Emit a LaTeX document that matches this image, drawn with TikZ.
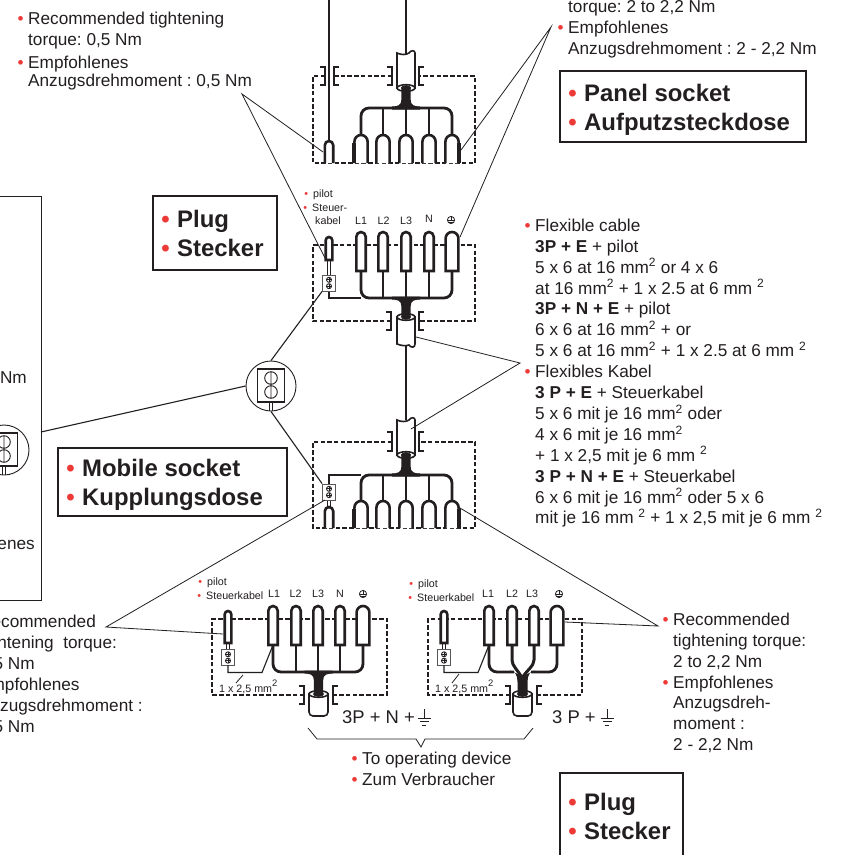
\documentclass[tikz,border=0pt]{standalone}
\usepackage{fontspec}
\setmainfont{Liberation Sans}
\definecolor{ink}{HTML}{231F20}
\definecolor{dotred}{HTML}{EE3A36}
\tikzset{
   body/.style={anchor=north west,align=left,inner sep=0pt,text=ink,font=\fontsize{17.2}{20.9}\selectfont},
   tag/.style={anchor=north west,align=left,inner sep=0pt,text=ink,font=\bfseries\fontsize{23.9}{29}\selectfont},
   small/.style={anchor=base west,inner sep=0pt,text=ink,font=\fontsize{10.7}{13}\selectfont},
   phase/.style={small,anchor=base},
   ratio/.style={anchor=base west,inner sep=0pt,text=ink,font=\fontsize{18.4}{22}\selectfont},
   frame/.style={draw=ink,line width=1.2pt},
   thinframe/.style={draw=ink,line width=0.9pt},
   leader/.style={draw=ink,line width=0.8pt},
   boxdash/.style={draw=ink,line width=1.2pt,dash pattern=on 4.5pt off 2.2pt},
   gland/.style={draw=ink,line width=1.3pt},
   pinline/.style={draw=ink,line width=2.6pt},
   wire/.style={draw=ink,line width=2.8pt,rounded corners=8pt},
   thinwire/.style={draw=ink,line width=1.1pt},
   sleeve/.style={draw=ink,line width=1.6pt,fill=white},
   termbox/.style={draw=ink!75,line width=0.9pt,fill=white,minimum width=13pt,minimum height=16pt,inner sep=0pt},
   lensring/.style={circle,draw=ink,line width=0.9pt,fill=white,minimum size=50pt,inner sep=0pt},
}
\newcommand{\bul}{\strut\llap{\textcolor{dotred}{\textbullet}\hspace{4.5pt}}}
\newcommand{\tagbul}{\strut\llap{\textcolor{dotred}{\textbullet}\hspace{7.5pt}}}
\newcommand{\smallbul}{\llap{\textcolor{dotred}{\textbullet}\hspace{5pt}}}
% closed pin: x, top, bottom, half width
\newcommand{\plugpin}[4]{%
   \draw[pinline,fill=white] ({#1-#4},#3) [rounded corners=#4pt] -- ({#1-#4},#2) -- ({#1+#4},#2) [sharp corners] -- ({#1+#4},#3) -- cycle;}
% open pin of a socket
\newcommand{\socketpin}[4]{%
   \draw[pinline,fill=white] ({#1-#4},#3) [rounded corners=#4pt] -- ({#1-#4},#2) -- ({#1+#4},#2) [sharp corners] -- ({#1+#4},#3);}
% left and right half of the cable gland
\newcommand{\glandpair}[4]{%
   \draw[gland] ({#1-5},#3) -- (#1,#3) -- (#1,#4) -- ({#1-5},#4);
   \draw[gland] ({#2+5},#3) -- (#2,#3) -- (#2,#4) -- ({#2+5},#4);}
\newcommand{\sleevedown}[3]{%
   \draw[sleeve] ({#1-9},#2) -- ({#1-9},#3) -- ({#1+9},#3) -- ({#1+9},#2) .. controls ({#1+9},{#2-3}) and ({#1+5},{#2-3}) .. ({#1+3},#2) .. controls ({#1},{#2+2}) and ({#1-5},{#2+2}) .. cycle;
   \draw[sleeve] (#1,#3) ellipse [x radius=9,y radius=3.3];}
\newcommand{\sleeveup}[3]{%
   \draw[sleeve] ({#1-9},#2) -- ({#1-9},#3) .. controls ({#1-4},{#3+2}) and ({#1},{#3+2}) .. ({#1+3},{#3+1}) .. controls ({#1+5},{#3+4}) and ({#1+9},{#3+4}) .. ({#1+9},#3) -- ({#1+9},#2) -- cycle;
   \draw[sleeve] (#1,#2) ellipse [x radius=9,y radius=3.3];}
\newcommand{\sleevecup}[3]{%
   \draw[sleeve] ({#1-9.5},#2) [rounded corners=4pt] -- ({#1-9.5},#3) -- ({#1+9.5},#3) [sharp corners] -- ({#1+9.5},#2) -- cycle;
   \draw[sleeve] (#1,#2) ellipse [x radius=9.5,y radius=3.3];}
% x, cable end, bus, direction
\newcommand{\junction}[4]{%
   \fill[ink] ({#1-4.7},#2) -- ({#1-4.7},{#3-#4*8}) .. controls ({#1-4.7},{#3-#4*3}) and ({#1-8},{#3-#4*1.5}) .. ({#1-14},{#3-#4*1.5}) -- ({#1-14},{#3+#4*1.5}) -- ({#1+14},{#3+#4*1.5}) -- ({#1+14},{#3-#4*1.5}) .. controls ({#1+8},{#3-#4*1.5}) and ({#1+4.7},{#3-#4*3}) .. ({#1+4.7},{#3-#4*8}) -- ({#1+4.7},#2) -- cycle;}
\newcommand{\termblock}[3]{%
   \node[termbox] (#1) at (#2,#3) {};
   \foreach \d in {-3.2,3.2} {
      \draw[ink,line width=0.9pt] (#2,{#3+\d}) circle [radius=2.5];
      \draw[ink,line width=0.8pt] ({#2-2.5},{#3+\d}) -- ({#2+2.5},{#3+\d}) (#2,{#3+\d-2.5}) -- (#2,{#3+\d+2.5});
   }}
\newcommand{\lens}[3]{%
   \node[lensring] (#1) at (#2,#3) {};
   \draw[ink,line width=1.1pt,fill=white] ({#2-13.5},{#3-17}) rectangle ({#2+13.5},{#3+16});
   \draw[ink,line width=0.9pt] (#2,{#3-8}) circle [radius=6.3] (#2,{#3+6}) circle [radius=6.3] (#2,{#3-14}) -- (#2,{#3+12});
   \draw[ink,line width=0.9pt] ({#2-1.6},{#3+16}) -- ({#2-1.6},{#3+25}) ({#2+1.6},{#3+16}) -- ({#2+1.6},{#3+25});}
\newcommand{\earthmark}[2]{%
   \draw[ink,line width=0.8pt] (#1,#2) circle [radius=3.6];
   \draw[ink,line width=0.8pt] (#1,{#2-3.6}) -- (#1,{#2+0.5}) ({#1-3.3},{#2+0.5}) -- ({#1+3.3},{#2+0.5}) ({#1-2},{#2+2}) -- ({#1+2},{#2+2});}
\newcommand{\groundmark}[1]{%
   \draw[ink,line width=0.9pt] (#1,709) -- (#1,718) ({#1-6.5},718) -- ({#1+6.5},718) ({#1-4.5},721.5) -- ({#1+4.5},721.5) ({#1-2.2},725) -- ({#1+2.2},725);}
\frenchspacing
\begin{document}
\begin{tikzpicture}[x=1pt,y=-1pt]
   \useasboundingbox (0,0) rectangle (861,854);
   \clip (0,0) rectangle (861,854);
   \fill[white] (0,0) rectangle (861,854);

   % panel socket
   \draw[boxdash] (325,76) -- (313,76) -- (313,163) -- (475,163) -- (475,76) -- (419,76);
   \draw[boxdash] (334,76) -- (392,76);
   \glandpair{325}{334}{67}{85}
   \glandpair{392}{419}{67}{85}
   \draw[ink,line width=1.5pt] (329,0) -- (329,142);
   \draw[ink,line width=1.8pt] (406,0) -- (406,55);
   \sleevedown{406}{53}{88}
   \draw[wire] (361,136) -- (361,108) -- (452,108) -- (452,136);
   \foreach \x in {383,406,429} {\draw[wire] (\x,108) -- (\x,136);}
   \junction{406}{87}{108}{1}
   \fill[ink] (406,88) ellipse [x radius=5,y radius=2.8];
   \socketpin{329}{141}{163}{4.2}
   \foreach \x in {361,383,406,429,452} {\socketpin{\x}{135}{163}{6.6}}
   \draw[ink,line width=3.8pt] (354.2,143) -- (354.2,163) (458.8,143) -- (458.8,163);

   % plug
   \draw[boxdash] (391,321) -- (313,321) -- (313,245) -- (475,245) -- (475,321) -- (419,321);
   \glandpair{391}{419}{312}{330}
   \draw[wire] (361,271) -- (361,298) -- (452,298) -- (452,271);
   \foreach \x in {383,406,429} {\draw[wire] (\x,271) -- (\x,298);}
   \draw[thinwire] (329,291) -- (329,298) -- (361,298);
   \draw[ink,line width=2pt] (406,345) -- (406,420);
   \sleeveup{406}{317}{344}
   \junction{406}{317}{298}{-1}
   \fill[ink] (406,317) ellipse [x radius=5,y radius=2.8];
   \plugpin{329}{237}{260}{3.3}
   \foreach \x in {361,383,406,429} {\plugpin{\x}{232}{271}{4.7}}
   \plugpin{452}{232}{271}{6.4}
   \draw[thinwire] (327.5,260) -- (327.5,275) (330.5,260) -- (330.5,275);
   \termblock{termA}{329}{283}

   % mobile socket
   \draw[boxdash] (392,442) -- (313,442) -- (313,528) -- (475,528) -- (475,442) -- (419,442);
   \glandpair{392}{419}{432}{451}
   \draw[wire] (361,501) -- (361,475) -- (452,475) -- (452,501);
   \foreach \x in {383,406,429} {\draw[wire] (\x,475) -- (\x,501);}
   \draw[thinwire] (329,484) -- (329,475) -- (361,475);
   \sleevedown{406}{420}{455}
   \junction{406}{454}{475}{1}
   \fill[ink] (406,455) ellipse [x radius=5,y radius=2.8];
   \socketpin{329}{507}{528}{4.2}
   \foreach \x in {361,383,406,429,452} {\socketpin{\x}{501}{528}{6.6}}
   \draw[ink,line width=3.8pt] (354.2,509) -- (354.2,528) (458.8,509) -- (458.8,528);
   \draw[thinwire] (327.5,500) -- (327.5,509) (330.5,500) -- (330.5,509);
   \termblock{termB}{329}{492}

   % plug 3P + N + earth
   \draw[boxdash] (304,695) -- (212,695) -- (212,619) -- (387,619) -- (387,695) -- (333,695);
   \glandpair{304}{333}{686}{704}
   \draw[wire] (273,645) -- (273,672) -- (363,672) -- (363,645);
   \foreach \x in {296,318,340} {\draw[wire] (\x,645) -- (\x,672);}
   \sleevecup{318.5}{694}{716}
   \junction{318.5}{694}{672}{-1}
   \fill[ink] (318.5,694) ellipse [x radius=5.5,y radius=2.8];
   \plugpin{228}{611}{643}{3.3}
   \foreach \x in {273,296,318,340} {\plugpin{\x}{606}{645}{4.7}}
   \plugpin{363}{606}{645}{6.4}
   \draw[thinwire] (226.5,643) -- (226.5,650) (229.5,643) -- (229.5,650);
   \termblock{termC}{228}{657.5}
   \draw[thinwire] (228,665) -- (228,672.5) -- (262,672.5) -- (273,645);
   \coordinate (sizeC) at (243,675);
   \coordinate (sizeCend) at (236,683);
   \draw[leader] (sizeC) -- (sizeCend);

   % plug 3P + earth
   \draw[boxdash] (510,695) -- (428,695) -- (428,619) -- (582,619) -- (582,695) -- (537,695);
   \glandpair{510}{537}{686}{704}
   \draw[wire] (489,645) -- (489,672) -- (514,672);
   \draw[wire] (557,645) -- (557,672) -- (531,672);
   \draw[ink,line width=3pt] (512,645) -- (512,660) .. controls (512,666) and (518,670) .. (522,678);
   \draw[ink,line width=3pt] (534,645) -- (534,660) .. controls (534,666) and (527,670) .. (522,678);
   \sleevecup{522.5}{694}{716}
   \fill[ink] (510,670.5) .. controls (515,671) and (517.5,675) .. (517.5,682) -- (517.5,694) -- (527.5,694) -- (527.5,682) .. controls (527.5,675) and (530,671) .. (535,670.5) -- (522.5,676) -- cycle;
   \fill[ink] (522.5,694) ellipse [x radius=5.5,y radius=2.8];
   \plugpin{444}{611}{643}{3.3}
   \foreach \x in {489,512,534} {\plugpin{\x}{606}{645}{4.7}}
   \plugpin{557}{606}{645}{6.4}
   \draw[thinwire] (442.5,643) -- (442.5,650) (445.5,643) -- (445.5,650);
   \termblock{termD}{444}{657.5}
   \draw[thinwire] (444,665) -- (444,672.5) -- (478,672.5) -- (489,645);
   \coordinate (sizeD) at (459,674);
   \coordinate (sizeDend) at (452,683);
   \draw[leader] (sizeD) -- (sizeDend);

   % clipped frame and lenses
   \draw[thinframe] (-5,196) -- (41,196) -- (41,600) -- (-5,600);
   \lens{lensA}{271}{386}
   \lens{lensB}{4}{450}
   \coordinate (frameEdge) at (41,432);
   \draw[ink,line width=1.1pt] (frameEdge) -- (lensA.west);
   \draw[ink,line width=1.1pt] (lensA.north) -- (termA.south west);
   \draw[ink,line width=1.1pt] (lensA.south) -- (termB.north west);

   % leaders
   \coordinate (tipTL) at (242,94);
   \coordinate (tipTLa) at (323,152);
   \coordinate (tipTLb) at (325,258);
   \draw[leader] (tipTLa) -- (tipTL) -- (tipTLb);
   \coordinate (tipTR) at (551,27);
   \coordinate (tipTRa) at (461,150);
   \coordinate (tipTRb) at (460,237);
   \draw[leader] (tipTRa) -- (tipTR) -- (tipTRb);
   \coordinate (tipFlex) at (520,363);
   \coordinate (tipFlexa) at (416,337);
   \coordinate (tipFlexb) at (411,429);
   \draw[leader] (tipFlexa) -- (tipFlex) -- (tipFlexb);
   \coordinate (tipBL) at (106,627);
   \coordinate (tipBLa) at (325,500);
   \coordinate (tipBLb) at (223,634);
   \draw[leader] (tipBLa) -- (tipBL) -- (tipBLb);
   \coordinate (tipBR) at (658,626);
   \coordinate (tipBRa) at (460,508);
   \coordinate (tipBRb) at (565,622);
   \draw[leader] (tipBRa) -- (tipBR) -- (tipBRb);
   \coordinate (braceL) at (308,728);
   \coordinate (braceR) at (533,728);
   \draw[leader] (braceL) -- (317,739) -- (416,739) -- (421,747) -- (425,739) -- (524,739) -- (braceR);

   % label boxes
   \draw[frame] (153,196) rectangle (277,270);
   \node[tag] (plugTagA) at (177,207) {\tagbul Plug\\\tagbul Stecker};
   \draw[frame] (560,71) rectangle (806,142);
   \node[tag] (panelTag) at (584,81) {\tagbul Panel socket\\\tagbul Aufputzsteckdose};
   \draw[frame] (58,448) rectangle (287,516);
   \node[tag] (mobileTag) at (82,456) {\tagbul Mobile socket\\\tagbul Kupplungsdose};
   \draw[frame] (560,860) -- (560,773) -- (683,773) -- (683,860);
   \node[tag] (plugTagB) at (584,790) {\tagbul Plug\\\tagbul Stecker};

   % notes
   \node[body] (noteTL) at (28,9.5) {\bul Recommended tightening\\torque: 0,5 Nm\\[2pt]\bul Empfohlenes\\[-3pt]Anzugsdrehmoment : 0,5 Nm};
   \node[body] (noteTR) at (568,-2.5) {\strut torque: 2 to 2,2 Nm\\\bul Empfohlenes\\Anzugsdrehmoment : 2 - 2,2 Nm};
   \node[body] (noteFlex) at (535,216.5) {\bul Flexible cable\\
      \textbf{3P + E} + pilot\\
      5 x 6 at 16 mm\textsuperscript{2} or 4 x 6\\
      at 16 mm\textsuperscript{2} + 1 x 2.5 at 6 mm \textsuperscript{2}\\
      \textbf{3P + N + E} + pilot\\
      6 x 6 at 16 mm\textsuperscript{2} + or\\
      5 x 6 at 16 mm\textsuperscript{2} + 1 x 2.5 at 6 mm \textsuperscript{2}\\
      \bul Flexibles Kabel\\
      \textbf{3 P + E} + Steuerkabel\\
      5 x 6 mit je 16 mm\textsuperscript{2} oder\\
      4 x 6 mit je 16 mm\textsuperscript{2}\\
      + 1 x 2,5 mit je 6 mm \textsuperscript{2}\\
      \textbf{3 P + N + E} + Steuerkabel\\
      6 x 6 mit je 16 mm\textsuperscript{2} oder 5 x 6\\
      mit je 16 mm \textsuperscript{2} + 1 x 2,5 mit je 6 mm \textsuperscript{2}};
   \node[body] (noteBL) at (-21,613) {\bul Recommended\\tightening\ \ torque:\\0,5 Nm\\\bul Empfohlenes\\Anzugsdrehmoment :\\0,5 Nm};
   \node[body] (noteBR) at (673,610.5) {\bul Recommended\\tightening torque:\\2 to 2,2 Nm\\\bul Empfohlenes\\Anzugsdreh-\\moment :\\2 - 2,2 Nm};
   \node[body] (noteUse) at (362,749.5) {\bul To operating device\\\bul Zum Verbraucher};
   \node[body,anchor=north east] (clipNm) at (27,368.5) {\strut Nm};
   \node[body,anchor=north east] (clipEmp) at (35,534.5) {\strut Empfohlenes};

   % small labels
   \node[small] (pilotA) at (313,197) {\smallbul pilot};
   \node[small] (steuerA) at (312,211) {\smallbul Steuer-};
   \node[small] (kabelA) at (315,224) {kabel};
   \node[phase] (l1A) at (361,224) {L1};
   \node[phase] (l2A) at (383.5,224) {L2};
   \node[phase] (l3A) at (406,224) {L3};
   \node[phase] (nA) at (429,222) {N};
   \earthmark{451}{220}

   \node[small] (pilotC) at (207,585) {\smallbul pilot};
   \node[small] (steuerC) at (206,599) {\smallbul Steuerkabel};
   \node[phase] (l1C) at (274,597) {L1};
   \node[phase] (l2C) at (295.5,597) {L2};
   \node[phase] (l3C) at (318,597) {L3};
   \node[phase] (nC) at (340,597) {N};
   \earthmark{363}{594}
   \node[small] (sizeCtext) at (219,692) {1 x 2,5 mm{\fontsize{13.5}{13}\selectfont\textsuperscript{2}}};

   \node[small] (pilotD) at (418,587) {\smallbul pilot};
   \node[small] (steuerD) at (417,601) {\smallbul Steuerkabel};
   \node[phase] (l1D) at (488,597) {L1};
   \node[phase] (l2D) at (512,597) {L2};
   \node[phase] (l3D) at (532,597) {L3};
   \earthmark{559}{594}
   \node[small] (sizeDtext) at (435,692) {1 x 2,5 mm{\fontsize{13.5}{13}\selectfont\textsuperscript{2}}};

   \node[ratio] (ratioC) at (342,723) {3P + N +};
   \groundmark{424}
   \node[ratio] (ratioD) at (552,723) {3 P +};
   \groundmark{607}
\end{tikzpicture}
\end{document}
